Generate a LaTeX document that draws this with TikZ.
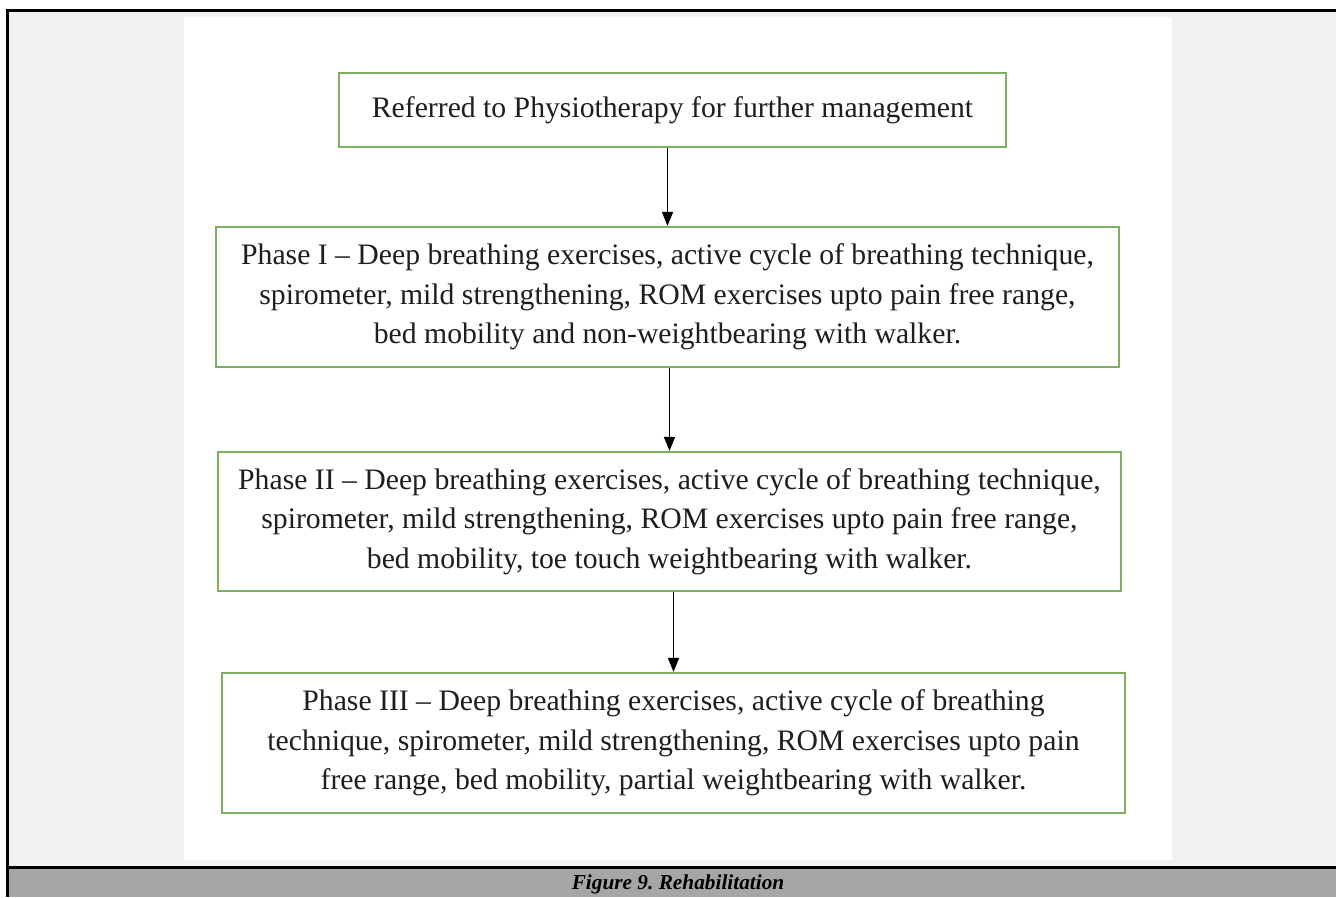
\documentclass[tikz,border=0pt]{standalone}
\usepackage{fontspec}
\setmainfont{Liberation Serif}
\usetikzlibrary{arrows.meta}
\definecolor{boxgreen}{HTML}{7EAE5E}
\definecolor{pagegray}{HTML}{F2F2F2}
\definecolor{capgray}{HTML}{A6A6A6}
\definecolor{inktext}{HTML}{1E1E1E}
\frenchspacing
\begin{document}
\begin{tikzpicture}[x=1pt,y=-1pt,
  flowbox/.style={draw=boxgreen, line width=2.2pt, fill=white, align=center, inner sep=0pt,
    font=\fontsize{29.7}{39.5}\selectfont, text=inktext},
  flowarrow/.style={-{Triangle[width=11pt,length=14pt]}, line width=1.5pt, black},
  captext/.style={font=\fontsize{21.3}{24}\selectfont\bfseries\itshape, text=black}]
\useasboundingbox (0,0) rectangle (1336,897);
\fill[white] (0,0) rectangle (1336,897);
\fill[pagegray] (7,10) rectangle (1336,867);
\fill[white] (184,17) rectangle (1172,860);
\fill[capgray] (7,867) rectangle (1336,897);
\draw[line width=3pt] (1336,10) -- (7,10) -- (7,897);
\draw[line width=3pt] (7,867) -- (1336,867);

\node[flowbox, minimum width=667pt, minimum height=74pt] (b1) at (672.5,110)
  {\raisebox{4pt}{Referred to Physiotherapy for further management}};
\node[flowbox, minimum width=903pt, minimum height=140pt] (b2) at (667.5,297)
  {Phase I -- Deep breathing exercises, active cycle of breathing technique,\\
   spirometer, mild strengthening, ROM exercises upto pain free range,\\
   bed mobility and non-weightbearing with walker.};
\node[flowbox, minimum width=903pt, minimum height=139pt] (b3) at (669.5,521.5)
  {Phase II -- Deep breathing exercises, active cycle of breathing technique,\\
   spirometer, mild strengthening, ROM exercises upto pain free range,\\
   bed mobility, toe touch weightbearing with walker.};
\node[flowbox, minimum width=903pt, minimum height=140pt] (b4) at (673.5,743)
  {Phase III -- Deep breathing exercises, active cycle of breathing\\
   technique, spirometer, mild strengthening, ROM exercises upto pain\\
   free range, bed mobility, partial weightbearing with walker.};

\draw[flowarrow] (b2.north |- b1.south) -- (b2.north);
\draw[flowarrow] (b3.north |- b2.south) -- (b3.north);
\draw[flowarrow] (b4.north |- b3.south) -- (b4.north);

\node[captext] (cap) at (678,884) {Figure 9. Rehabilitation};
\end{tikzpicture}
\end{document}
